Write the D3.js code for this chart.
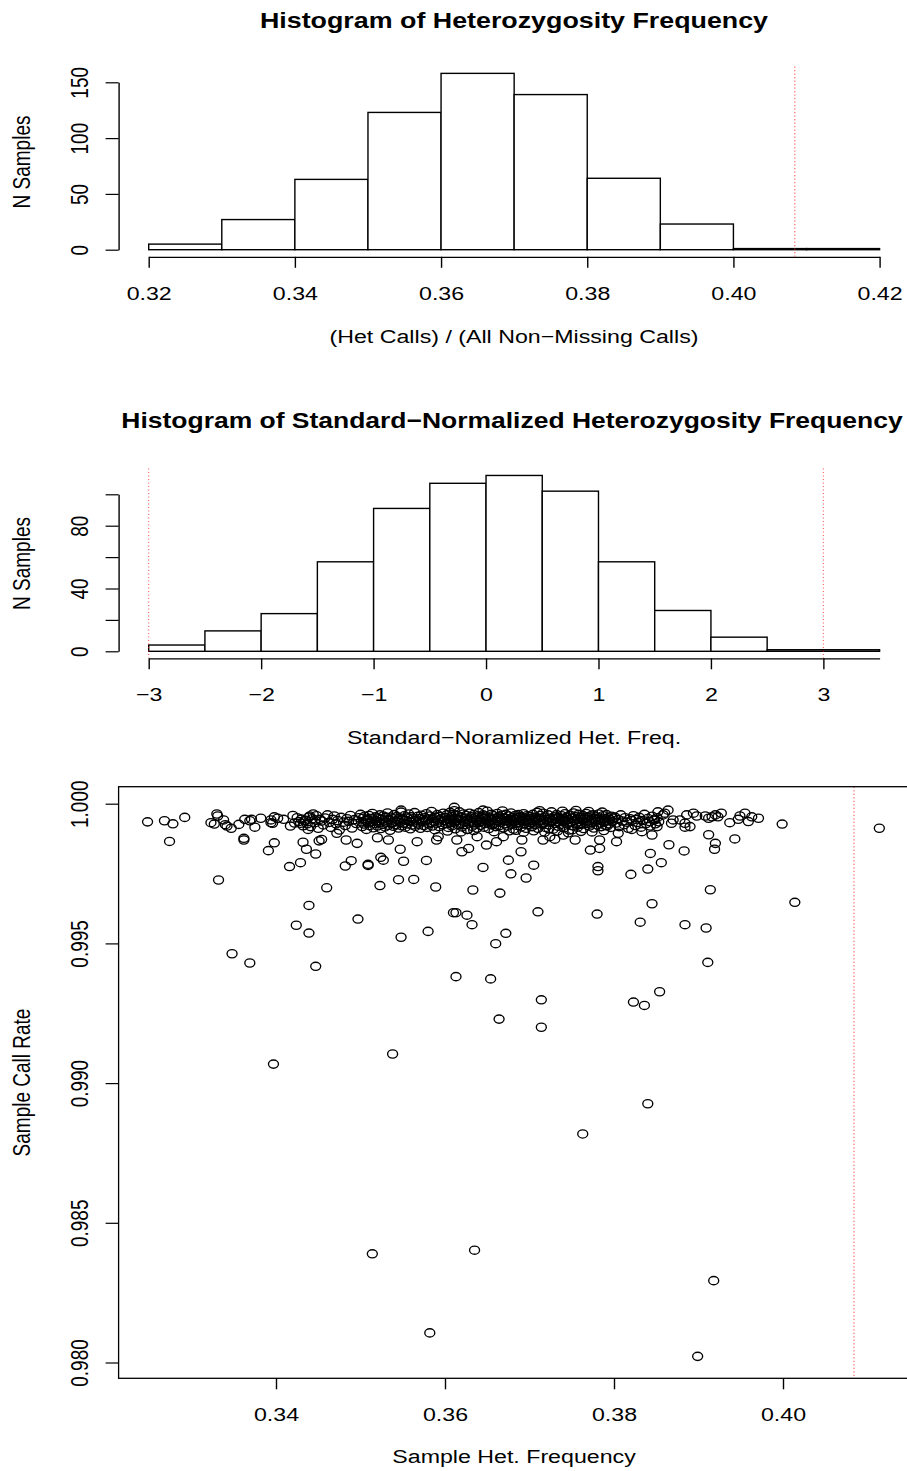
<!DOCTYPE html>
<html>
<head>
<meta charset="utf-8">
<script src="https://cdnjs.cloudflare.com/ajax/libs/d3/7.8.5/d3.min.js"></script>
<style>
  body { margin: 0; background: #fff; }
  svg { display: block; font-family: "Liberation Sans", Arial, Helvetica, sans-serif; }
</style>
</head>
<body>
<svg id="chart" width="907" height="1471"></svg>
<script>
// ---- histogram 1: raw heterozygosity frequency
const hetBreaks = [0.32, 0.33, 0.34, 0.35, 0.36, 0.37, 0.38, 0.39, 0.40, 0.41, 0.42];
const hetCounts = [5, 27, 63, 123, 158, 139, 64, 23, 1, 1];
const hetTicks = [0.32, 0.34, 0.36, 0.38, 0.40, 0.42];
const countTicksTop = [0, 50, 100, 150];
const hetCutoff = 0.4084;

// ---- histogram 2: standard-normalized
const zBreaks = [-3, -2.5, -2, -1.5, -1, -0.5, 0, 0.5, 1, 1.5, 2, 2.5, 3, 3.5];
const zCounts = [4, 13, 24, 57, 91, 107, 112, 102, 57, 26, 9, 1, 1];
const zTicks = [-3, -2, -1, 0, 1, 2, 3];
const countTicksMid = [0, 20, 40, 60, 80, 100];
const countLabelsMid = [0, 40, 80];
const zCutoffs = [-3, 3];

// ---- scatter: het frequency vs call rate
const scatterXTicks = [0.34, 0.36, 0.38, 0.40];
const callRateTicks = [0.980, 0.985, 0.990, 0.995, 1.000];

// points read one by one (left end of the band, and everything off the band)
const pointsLeft = [
  [0.3248,0.99935],[0.3268,0.99939],[0.3278,0.99928],[0.3292,0.99951],[0.3274,0.99865],
  [0.3362,0.99876],[0.3362,0.99870],[0.3323,0.99932],[0.3330,0.99963],[0.3331,0.99956],
  [0.3327,0.99927],[0.3338,0.99942],[0.3340,0.99925],[0.3342,0.99920],[0.3347,0.99912],
  [0.3356,0.99926],[0.3363,0.99944],[0.3369,0.99939],[0.3371,0.99944],[0.3375,0.99916],
  [0.3382,0.99948],[0.3394,0.99942],[0.3398,0.99953],[0.3402,0.99948],[0.3396,0.99930],
  [0.3394,0.99932],[0.3409,0.99944],[0.3417,0.99920],[0.3398,0.99860],[0.3391,0.99832],
  [0.3429,0.99930],[0.3434,0.99939],[0.3440,0.99956],[0.3444,0.99963],[0.3446,0.99942],
  [0.3438,0.99908],[0.3432,0.99862],[0.3436,0.99837],[0.3451,0.99867],[0.3454,0.99872],
  [0.3447,0.99820]
];
const pointsLow = [
  [0.3332,0.99727],[0.3348,0.99463],[0.3369,0.99430],[0.3397,0.99068],
  [0.3416,0.99775],[0.3424,0.99565],[0.3429,0.99789],[0.3439,0.99636],[0.3439,0.99537],[0.3447,0.99418],
  [0.3460,0.99699],[0.3482,0.99777],[0.3489,0.99796],[0.3497,0.99587],
  [0.3509,0.99783],[0.3509,0.99779],[0.3514,0.98389],[0.3523,0.99707],[0.3524,0.99808],[0.3527,0.99798],
  [0.3538,0.99104],[0.3545,0.99728],[0.3548,0.99522],[0.3551,0.99794],[0.3563,0.99729],
  [0.3578,0.99797],[0.3580,0.99543],[0.3582,0.98106],[0.3589,0.99702],
  [0.3610,0.99610],[0.3613,0.99610],[0.3613,0.99381],[0.3626,0.99601],[0.3632,0.99567],[0.3633,0.99691],
  [0.3635,0.98402],[0.3645,0.99772],[0.3654,0.99373],[0.3660,0.99499],[0.3664,0.99229],[0.3665,0.99680],
  [0.3672,0.99536],[0.3675,0.99798],[0.3678,0.99749],
  [0.3696,0.99734],[0.3705,0.99780],[0.3710,0.99613],[0.3714,0.99298],[0.3714,0.99200],
  [0.3763,0.98818],[0.3780,0.99605],[0.3781,0.99775],[0.3781,0.99760],
  [0.3820,0.99747],[0.3823,0.99290],[0.3831,0.99576],[0.3836,0.99278],[0.3840,0.99766],[0.3845,0.99642],
  [0.3840,0.98926],[0.3854,0.99327],[0.3856,0.99789],[0.3865,0.99853],[0.3883,0.99831],[0.3884,0.99567],
  [0.3918,0.98293],[0.3899,0.98022],[0.3909,0.99555],[0.3911,0.99432],[0.3912,0.99889],[0.3914,0.99692],
  [0.3919,0.99837],[0.3920,0.99858],[0.3943,0.99874],[0.3999,0.99927],[0.4014,0.99647],[0.4114,0.99912]
];
const pointsUnderBand = [
  [0.3472,0.99894],[0.3483,0.99870],[0.3496,0.99858],[0.3520,0.99878],[0.3533,0.99870],
  [0.3547,0.99837],[0.3567,0.99864],[0.3590,0.99870],[0.3592,0.99882],[0.3614,0.99870],
  [0.3620,0.99828],[0.3628,0.99840],[0.3638,0.99882],[0.3649,0.99852],[0.3661,0.99864],
  [0.3669,0.99882],[0.3611,0.99987],[0.3548,0.99977],[0.3691,0.99870],[0.3690,0.99828],
  [0.3716,0.99870],[0.3724,0.99882],[0.3730,0.99873],[0.3740,0.99888],[0.3754,0.99870],
  [0.3772,0.99834],[0.3783,0.99840],[0.3783,0.99870],[0.3803,0.99864],[0.3805,0.99894],
  [0.3821,0.99908],[0.3833,0.99900],[0.3845,0.99888],[0.3851,0.99918],[0.3843,0.99822]
];
const pointsRight = [
  [0.3852,0.99971],[0.3860,0.99966],[0.3864,0.99977],[0.3858,0.99960],[0.3870,0.99942],
  [0.3878,0.99942],[0.3884,0.99930],[0.3886,0.99960],[0.3894,0.99966],[0.3898,0.99956],
  [0.3908,0.99956],[0.3912,0.99948],[0.3916,0.99953],[0.3920,0.99960],[0.3927,0.99966],
  [0.3923,0.99953],[0.3937,0.99932],[0.3947,0.99944],[0.3949,0.99956],[0.3955,0.99966],
  [0.3959,0.99936],[0.3963,0.99953],[0.3971,0.99948],[0.3890,0.99918],[0.3848,0.99942],
  [0.3868,0.99930],[0.3884,0.99916]
];
// dense band near 0.9994 (estimated, too overlapped to read singly)
const band34 = [
  [0.3420,0.99958],[0.3422,0.99931],[0.3425,0.99950],[0.3427,0.99936],[0.3430,0.99945],[0.3432,0.99921],
  [0.3435,0.99941],[0.3437,0.99928],[0.3439,0.99952],[0.3441,0.99918],[0.3443,0.99946],[0.3446,0.99932],
  [0.3448,0.99957],[0.3450,0.99912],[0.3452,0.99944],[0.3454,0.99938],[0.3456,0.99924],[0.3458,0.99949],
  [0.3461,0.99960],[0.3463,0.99933],[0.3465,0.99915],[0.3467,0.99944],[0.3469,0.99956],[0.3471,0.99928],
  [0.3473,0.99940],[0.3475,0.99906],[0.3477,0.99951],[0.3480,0.99934],[0.3482,0.99922],[0.3484,0.99946],
  [0.3486,0.99937],[0.3488,0.99958],[0.3490,0.99913],[0.3493,0.99943],[0.3495,0.99929],[0.3498,0.99950]
];
const band35 = [
  [0.3500,0.99962],[0.3501,0.99935],[0.3502,0.99918],[0.3503,0.99948],[0.3504,0.99927],[0.3505,0.99955],[0.3506,0.99940],[0.3507,0.99908],[0.3508,0.99944],[0.3509,0.99931],
  [0.3510,0.99958],[0.3511,0.99922],[0.3512,0.99947],[0.3513,0.99936],[0.3514,0.99965],[0.3515,0.99914],[0.3516,0.99942],[0.3517,0.99929],[0.3518,0.99953],[0.3519,0.99938],
  [0.3520,0.99920],[0.3521,0.99949],[0.3522,0.99932],[0.3523,0.99960],[0.3524,0.99911],[0.3525,0.99945],[0.3526,0.99926],[0.3527,0.99956],[0.3528,0.99939],[0.3529,0.99917],
  [0.3530,0.99951],[0.3531,0.99934],[0.3532,0.99967],[0.3533,0.99923],[0.3534,0.99943],[0.3535,0.99905],[0.3536,0.99952],[0.3537,0.99930],[0.3538,0.99946],[0.3539,0.99919],
  [0.3540,0.99961],[0.3541,0.99937],[0.3542,0.99925],[0.3543,0.99954],[0.3544,0.99941],[0.3545,0.99913],[0.3546,0.99948],[0.3547,0.99933],[0.3548,0.99970],[0.3549,0.99921],
  [0.3550,0.99944],[0.3551,0.99930],[0.3552,0.99957],[0.3553,0.99916],[0.3554,0.99940],[0.3555,0.99949],[0.3556,0.99927],[0.3557,0.99963],[0.3558,0.99936],[0.3559,0.99910],
  [0.3560,0.99953],[0.3561,0.99924],[0.3562,0.99946],[0.3563,0.99938],[0.3564,0.99968],[0.3565,0.99919],[0.3566,0.99942],[0.3567,0.99931],[0.3568,0.99955],[0.3569,0.99926],
  [0.3570,0.99947],[0.3571,0.99912],[0.3572,0.99959],[0.3573,0.99935],[0.3574,0.99943],[0.3575,0.99922],[0.3576,0.99950],[0.3577,0.99939],[0.3578,0.99964],[0.3579,0.99915],
  [0.3580,0.99945],[0.3581,0.99928],[0.3582,0.99956],[0.3583,0.99933],[0.3584,0.99972],[0.3585,0.99920],[0.3586,0.99948],[0.3587,0.99937],[0.3588,0.99907],[0.3589,0.99952],
  [0.3590,0.99930],[0.3591,0.99961],[0.3592,0.99941],[0.3593,0.99918],[0.3594,0.99954],[0.3595,0.99934],[0.3596,0.99946],[0.3597,0.99925],[0.3598,0.99966],[0.3599,0.99940]
];
const band36 = [
  [0.3600,0.99951],[0.3601,0.99928],[0.3602,0.99960],[0.3603,0.99937],[0.3604,0.99915],[0.3605,0.99946],[0.3606,0.99969],[0.3607,0.99932],[0.3608,0.99954],[0.3608,0.99921],
  [0.3609,0.99943],[0.3610,0.99962],[0.3611,0.99934],[0.3612,0.99910],[0.3613,0.99948],[0.3614,0.99939],[0.3615,0.99957],[0.3616,0.99924],[0.3616,0.99945],[0.3617,0.99971],
  [0.3618,0.99930],[0.3619,0.99952],[0.3620,0.99917],[0.3621,0.99941],[0.3622,0.99963],[0.3623,0.99935],[0.3624,0.99949],[0.3624,0.99926],[0.3625,0.99958],[0.3626,0.99908],
  [0.3627,0.99944],[0.3628,0.99931],[0.3629,0.99966],[0.3630,0.99938],[0.3631,0.99953],[0.3632,0.99919],[0.3632,0.99946],[0.3633,0.99934],[0.3634,0.99961],[0.3635,0.99927],
  [0.3636,0.99950],[0.3637,0.99940],[0.3638,0.99913],[0.3639,0.99956],[0.3640,0.99932],[0.3640,0.99968],[0.3641,0.99945],[0.3642,0.99923],[0.3643,0.99952],[0.3644,0.99937],
  [0.3645,0.99960],[0.3646,0.99916],[0.3647,0.99947],[0.3648,0.99929],[0.3648,0.99955],[0.3649,0.99942],[0.3650,0.99973],[0.3651,0.99934],[0.3652,0.99911],[0.3653,0.99949],
  [0.3654,0.99938],[0.3655,0.99962],[0.3656,0.99925],[0.3656,0.99944],[0.3657,0.99957],[0.3658,0.99931],[0.3659,0.99948],[0.3660,0.99918],[0.3661,0.99940],[0.3662,0.99965],
  [0.3663,0.99936],[0.3664,0.99953],[0.3664,0.99921],[0.3665,0.99946],[0.3666,0.99933],[0.3667,0.99959],[0.3668,0.99942],[0.3669,0.99914],[0.3670,0.99950],[0.3671,0.99928],
  [0.3672,0.99962],[0.3672,0.99939],[0.3673,0.99947],[0.3674,0.99920],[0.3675,0.99956],[0.3676,0.99935],[0.3677,0.99944],[0.3678,0.99967],[0.3679,0.99926],[0.3680,0.99951],
  [0.3680,0.99937],[0.3681,0.99909],[0.3682,0.99945],[0.3683,0.99958],[0.3684,0.99930],[0.3685,0.99948],[0.3686,0.99922],[0.3687,0.99961],[0.3688,0.99940],[0.3688,0.99933],
  [0.3689,0.99954],[0.3690,0.99917],[0.3691,0.99946],[0.3692,0.99938],[0.3693,0.99964],[0.3694,0.99929],[0.3695,0.99950],[0.3696,0.99943],[0.3696,0.99912],[0.3697,0.99957],
  [0.3698,0.99934],[0.3699,0.99948],[0.3603,0.99902],[0.3619,0.99899],[0.3634,0.99904],[0.3658,0.99900],[0.3676,0.99903],[0.3693,0.99898],[0.3611,0.99975],[0.3645,0.99977],
  [0.3627,0.99908],[0.3668,0.99974],[0.3684,0.99905],[0.3606,0.99942],[0.3641,0.99936],[0.3653,0.99927],[0.3662,0.99949],[0.3679,0.99941],[0.3687,0.99952],[0.3699,0.99926]
];
const band37 = [
  [0.3700,0.99955],[0.3701,0.99932],[0.3702,0.99946],[0.3703,0.99918],[0.3704,0.99962],[0.3705,0.99938],[0.3706,0.99951],[0.3707,0.99925],[0.3708,0.99944],[0.3709,0.99969],
  [0.3710,0.99934],[0.3710,0.99912],[0.3711,0.99949],[0.3712,0.99940],[0.3713,0.99958],[0.3714,0.99927],[0.3715,0.99945],[0.3716,0.99966],[0.3717,0.99931],[0.3718,0.99952],
  [0.3719,0.99915],[0.3720,0.99943],[0.3721,0.99937],[0.3722,0.99960],[0.3723,0.99924],[0.3724,0.99948],[0.3725,0.99933],[0.3726,0.99971],[0.3727,0.99940],[0.3728,0.99909],
  [0.3729,0.99953],[0.3730,0.99929],[0.3731,0.99946],[0.3732,0.99961],[0.3733,0.99936],[0.3734,0.99919],[0.3735,0.99950],[0.3736,0.99942],[0.3737,0.99926],[0.3738,0.99957],
  [0.3739,0.99935],[0.3740,0.99947],[0.3741,0.99914],[0.3742,0.99964],[0.3743,0.99939],[0.3744,0.99952],[0.3745,0.99928],[0.3746,0.99944],[0.3747,0.99906],[0.3748,0.99959],
  [0.3749,0.99933],[0.3750,0.99948],[0.3751,0.99921],[0.3752,0.99967],[0.3753,0.99940],[0.3754,0.99954],[0.3755,0.99930],[0.3756,0.99945],[0.3757,0.99916],[0.3758,0.99962],
  [0.3759,0.99937],[0.3760,0.99950],[0.3761,0.99926],[0.3762,0.99943],[0.3763,0.99958],[0.3764,0.99911],[0.3765,0.99946],[0.3766,0.99934],[0.3767,0.99965],[0.3768,0.99929],
  [0.3769,0.99951],[0.3770,0.99939],[0.3771,0.99920],[0.3772,0.99956],[0.3773,0.99942],[0.3774,0.99932],[0.3775,0.99960],[0.3776,0.99913],[0.3777,0.99947],[0.3778,0.99936],
  [0.3779,0.99953],[0.3780,0.99924],[0.3781,0.99944],[0.3782,0.99963],[0.3783,0.99931],[0.3784,0.99949],[0.3785,0.99918],[0.3786,0.99940],[0.3787,0.99957],[0.3788,0.99934],
  [0.3789,0.99946],[0.3790,0.99922],[0.3791,0.99961],[0.3792,0.99938],[0.3793,0.99950],[0.3794,0.99928],[0.3795,0.99944],[0.3796,0.99915],[0.3797,0.99955],[0.3798,0.99936],
  [0.3799,0.99948],[0.3705,0.99903],[0.3718,0.99898],[0.3733,0.99902],[0.3746,0.99896],[0.3761,0.99901],[0.3774,0.99899],[0.3788,0.99904],[0.3712,0.99975],[0.3739,0.99973],
  [0.3755,0.99976],[0.3770,0.99972],[0.3786,0.99970],[0.3703,0.99941],[0.3716,0.99930],[0.3728,0.99947],[0.3741,0.99938],[0.3757,0.99925],[0.3766,0.99952],[0.3779,0.99943],
  [0.3792,0.99921],[0.3723,0.99910],[0.3751,0.99907]
];
const band38 = [
  [0.3801,0.99952],[0.3803,0.99931],[0.3805,0.99944],[0.3806,0.99918],[0.3808,0.99960],[0.3810,0.99938],
  [0.3812,0.99925],[0.3813,0.99950],[0.3815,0.99934],[0.3817,0.99912],[0.3819,0.99946],[0.3821,0.99940],
  [0.3823,0.99957],[0.3825,0.99922],[0.3826,0.99944],[0.3828,0.99933],[0.3830,0.99951],[0.3832,0.99916],
  [0.3834,0.99940],[0.3836,0.99962],[0.3838,0.99929],[0.3840,0.99947],[0.3842,0.99936],[0.3843,0.99920],
  [0.3845,0.99955],[0.3847,0.99941],[0.3849,0.99928],[0.3851,0.99950],[0.3853,0.99935]
];
const scatterPoints = [].concat(pointsLeft, band34, band35, band36, band37, band38,
                                pointsUnderBand, pointsRight, pointsLow);

const SX = 1.22;   // the picture is stretched sideways, so is its text
const FONT = 19;
const svg = d3.select("#chart");

function label(x, y, txt, opts) {
    opts = opts || {};
    let tf = "translate(" + x + "," + y + ") scale(" + SX + ",1)";
    if (opts.rotate) tf += " rotate(-90)";
    svg.append("text")
        .attr("transform", tf)
        .attr("text-anchor", "middle")
        .attr("font-size", opts.size || FONT)
        .attr("font-weight", opts.bold ? "bold" : null)
        .text(txt);
}

function styleBottom(g) {
    g.attr("font-size", FONT).attr("font-family", null);
    g.selectAll(".domain").attr("stroke-width", 1.3);
    g.selectAll(".tick line").attr("stroke-width", 1.4);
    g.selectAll(".tick text")
        .attr("y", null).attr("dy", null)
        .attr("transform", "translate(0,43) scale(" + SX + ",1)");
}
function styleLeft(g) {
    g.attr("font-size", FONT).attr("font-family", null);
    g.selectAll(".domain").attr("stroke-width", 1.4);
    g.selectAll(".tick line").attr("stroke-width", 1.2);
    g.selectAll(".tick text")
        .attr("x", null).attr("dy", null)
        .attr("text-anchor", "middle")
        .attr("transform", "translate(-31,0) scale(" + SX + ",1) rotate(-90)");
}

function histogram(breaks, counts, x, y) {
    svg.append("g").selectAll("rect")
        .data(counts)
        .join("rect")
        .attr("x", (d, i) => x(breaks[i]))
        .attr("width", (d, i) => x(breaks[i + 1]) - x(breaks[i]))
        .attr("y", d => y(d))
        .attr("height", d => y(0) - y(d))
        .attr("fill", "#fff")
        .attr("stroke", "#000")
        .attr("stroke-width", 1.4);
}

function cutLine(xpos, y0, y1) {
    svg.append("line")
        .attr("x1", xpos).attr("x2", xpos)
        .attr("y1", y0).attr("y2", y1)
        .attr("stroke", "#ff3030")
        .attr("stroke-opacity", 0.8)
        .attr("stroke-width", 1.1)
        .attr("stroke-dasharray", "1.2,2.3");
}

const minus = d => (d < 0 ? "\u2212" + Math.abs(d) : "" + d);

// ---------- panel 1
let x1 = d3.scaleLinear().domain([0.32, 0.42]).range([148.7, 879.6]);
let y1 = d3.scaleLinear().domain([0, 150]).range([249.7, 82.3]);

label(514, 28.3, "Histogram of Heterozygosity Frequency", {size: 22, bold: true});
histogram(hetBreaks, hetCounts, x1, y1);
svg.append("g")
    .attr("transform", "translate(0,256.8)")
    .call(d3.axisBottom(x1).tickValues(hetTicks).tickSize(11).tickSizeOuter(0).tickFormat(d3.format(".2f")))
    .call(styleBottom);
svg.append("g")
    .attr("transform", "translate(118.6,0)")
    .call(d3.axisLeft(y1).tickValues(countTicksTop).tickSize(13).tickSizeOuter(0))
    .call(styleLeft);
cutLine(x1(hetCutoff), 66.5, 256.8);
label(514, 343, "(Het Calls) / (All Non\u2212Missing Calls)");
label(29.5, 162, "N Samples", {rotate: true});

// ---------- panel 2
let x2 = d3.scaleLinear().domain([-3, 3.5]).range([148.7, 879.6]);
let y2 = d3.scaleLinear().domain([0, 100]).range([651.3, 494.3]);

label(512, 428.3, "Histogram of Standard\u2212Normalized Heterozygosity Frequency", {size: 21.7, bold: true});
histogram(zBreaks, zCounts, x2, y2);
svg.append("g")
    .attr("transform", "translate(0,658.3)")
    .call(d3.axisBottom(x2).tickValues(zTicks).tickSize(11).tickSizeOuter(0).tickFormat(minus))
    .call(styleBottom);
svg.append("g")
    .attr("transform", "translate(118.6,0)")
    .call(d3.axisLeft(y2).tickValues(countTicksMid).tickSize(13).tickSizeOuter(0)
        .tickFormat(d => countLabelsMid.includes(d) ? d : ""))
    .call(styleLeft);
zCutoffs.forEach(z => cutLine(x2(z), 468.4, 658.3));
label(514, 743.5, "Standard\u2212Noramlized Het. Freq.");
label(29.5, 563.5, "N Samples", {rotate: true});

// ---------- panel 3
let x3 = d3.scaleLinear().domain([0.34, 0.40]).range([276, 783]);
let y3 = d3.scaleLinear().domain([0.98, 1.0]).range([1362.5, 803.7]);

svg.append("g")
    .attr("transform", "translate(0,1378.3)")
    .call(d3.axisBottom(x3).tickValues(scatterXTicks).tickSize(11).tickSizeOuter(0).tickFormat(d3.format(".2f")))
    .call(styleBottom)
    .call(g => g.select(".domain").remove());
svg.append("g")
    .attr("transform", "translate(118.6,0)")
    .call(d3.axisLeft(y3).tickValues(callRateTicks).tickSize(13).tickSizeOuter(0).tickFormat(d3.format(".3f")))
    .call(styleLeft)
    .call(g => g.select(".domain").remove());

cutLine(x3(hetCutoff), 786.7, 1378.3);

svg.append("g").selectAll("ellipse")
    .data(scatterPoints)
    .join("ellipse")
    .attr("cx", d => x3(d[0]))
    .attr("cy", d => y3(d[1]))
    .attr("rx", 5.0)
    .attr("ry", 4.1)
    .attr("fill", "none")
    .attr("stroke", "#000")
    .attr("stroke-width", 1.35);

svg.append("rect")
    .attr("x", 118.6).attr("y", 786.7)
    .attr("width", 910 - 118.6).attr("height", 1378.3 - 786.7)
    .attr("fill", "none")
    .attr("stroke", "#000")
    .attr("stroke-width", 1.3);

label(514, 1463, "Sample Het. Frequency");
label(29.5, 1082.5, "Sample Call Rate", {rotate: true});
</script>
</body>
</html>
